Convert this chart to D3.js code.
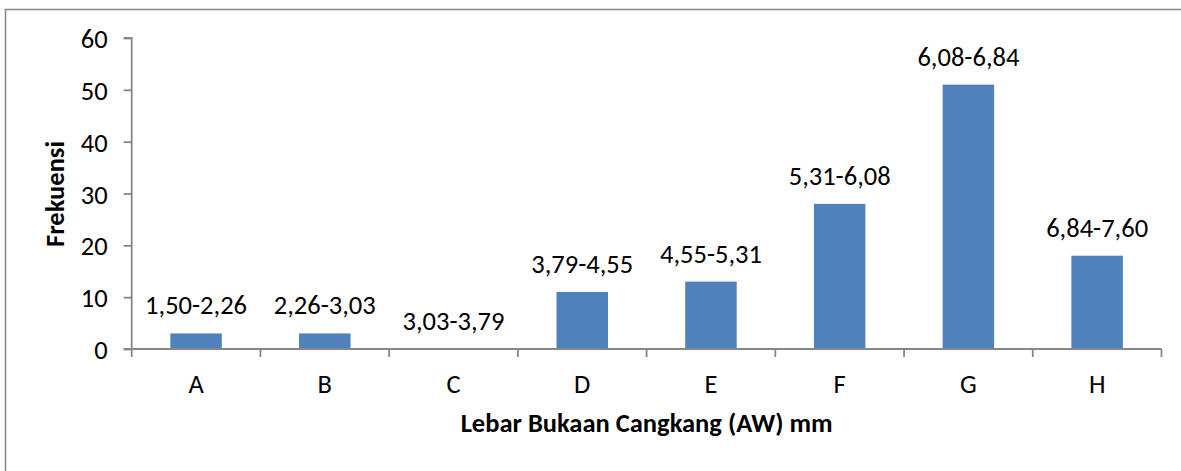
<!DOCTYPE html>
<html>
<head>
<meta charset="utf-8">
<script src="https://cdn.jsdelivr.net/npm/d3@7"></script>
<style>
  html, body { margin: 0; padding: 0; background: #fff; }
  svg { display: block; }
  text { font-family: Carlito, Lato, "Open Sans", sans-serif; fill: #000; }
</style>
</head>
<body>
<svg id="chart" width="1181" height="471"></svg>
<script>
const categories = ["A", "B", "C", "D", "E", "F", "G", "H"];
const frequencies = [3, 3, 0, 11, 13, 28, 51, 18];
const rangeLabels = ["1,50-2,26", "2,26-3,03", "3,03-3,79", "3,79-4,55", "4,55-5,31", "5,31-6,08", "6,08-6,84", "6,84-7,60"];
const yTicks = [0, 10, 20, 30, 40, 50, 60];
const xTitle = "Lebar Bukaan Cangkang (AW) mm";
const yTitle = "Frekuensi";

const svg = d3.select("#chart");
const axisColor = "#868686";
const barColor = "#4F81BD";
const fs = "26.5px";
const fsTitle = "26.5px";

// outer chart border
svg.append("rect")
  .attr("x", 5.5).attr("y", 9.5)
  .attr("width", 1300).attr("height", 600)
  .attr("fill", "none").attr("stroke", axisColor).attr("stroke-width", 1.5);

const plot = { left: 131.7, right: 1161.5, top: 38, bottom: 349 };

const x = d3.scaleBand().domain(categories).range([plot.left, plot.right]).paddingInner(0.6).paddingOuter(0.3);
const xb = d3.scaleBand().domain(categories).range([plot.left, plot.right]);
const y = d3.scaleLinear().domain([0, 60]).range([plot.bottom, plot.top]);

// bars
svg.selectAll("rect.bar").data(frequencies).enter().append("rect")
  .attr("class", "bar")
  .attr("x", (d, i) => x(categories[i]))
  .attr("width", x.bandwidth())
  .attr("y", d => y(d))
  .attr("height", d => y(0) - y(d))
  .attr("fill", barColor);

// y axis
const yAxis = d3.axisLeft(y).tickValues(yTicks).tickSize(8).tickPadding(16).tickFormat(d3.format("d"));
const gy = svg.append("g").attr("transform", `translate(${plot.left},0)`).call(yAxis);
gy.select(".domain").attr("stroke", axisColor).attr("stroke-width", 1.8).attr("d", `M-8,${plot.top}H0V${plot.bottom}`);
gy.selectAll(".tick line").attr("stroke", axisColor).attr("stroke-width", 1.8);
gy.selectAll(".tick text").style("font-size", fs).attr("dy", "0.36em").attr("fill", "#000");

// x axis
const gx = svg.append("g").attr("transform", `translate(0,${plot.bottom})`);
gx.append("line").attr("x1", plot.left - 8).attr("x2", plot.right).attr("y1", 0).attr("y2", 0)
  .attr("stroke", axisColor).attr("stroke-width", 1.8);
const tickPos = categories.map(c => xb(c)).concat([plot.right]);
gx.selectAll("line.tk").data(tickPos).enter().append("line")
  .attr("class", "tk")
  .attr("x1", d => d).attr("x2", d => d).attr("y1", 0).attr("y2", 8)
  .attr("stroke", axisColor).attr("stroke-width", 1.8);
gx.selectAll("text.cat").data(categories).enter().append("text")
  .attr("class", "cat")
  .attr("x", d => xb(d) + xb.bandwidth() / 2)
  .attr("y", 44)
  .attr("text-anchor", "middle")
  .style("font-size", fs)
  .text(d => d);

// data labels
svg.selectAll("text.lbl").data(frequencies).enter().append("text")
  .attr("class", "lbl")
  .attr("x", (d, i) => xb(categories[i]) + xb.bandwidth() / 2)
  .attr("y", d => y(d) - 19)
  .attr("text-anchor", "middle")
  .style("font-size", fs)
  .text((d, i) => rangeLabels[i]);

// axis titles
svg.append("text")
  .attr("x", (plot.left + plot.right) / 2)
  .attr("y", 432)
  .attr("text-anchor", "middle")
  .style("font-size", fsTitle).style("font-weight", "bold")
  .text(xTitle);

svg.append("text")
  .attr("transform", `translate(64,194) rotate(-90)`)
  .attr("text-anchor", "middle")
  .style("font-size", fsTitle).style("font-weight", "bold")
  .text(yTitle);
</script>
</body>
</html>
